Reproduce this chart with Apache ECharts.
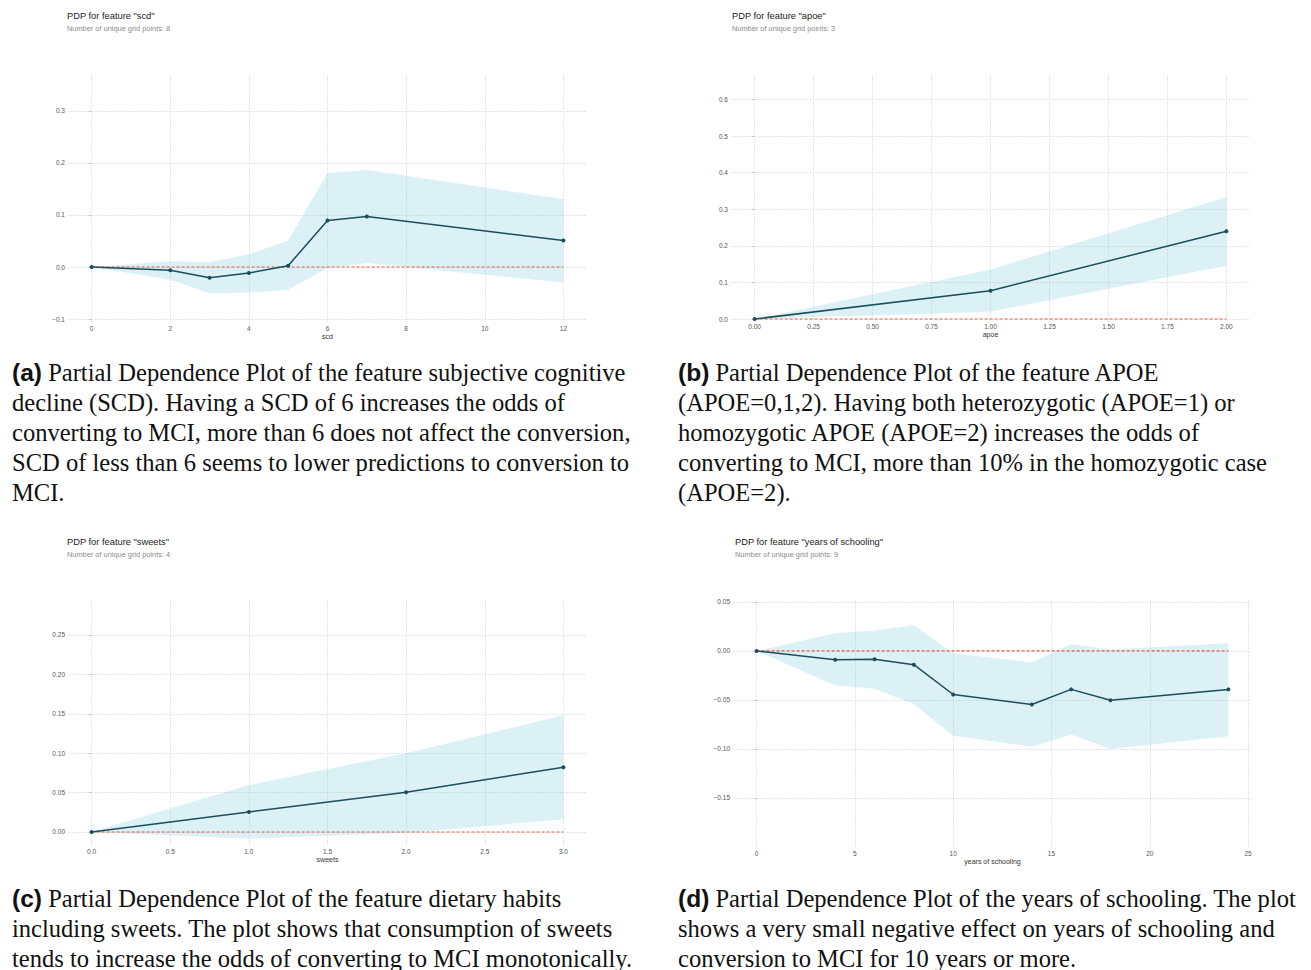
<!DOCTYPE html>
<html>
<head>
<meta charset="utf-8">
<script src="https://cdn.jsdelivr.net/npm/echarts@6/dist/echarts.min.js"></script>
<style>
  html, body { margin: 0; padding: 0; background: #ffffff; }
  #chart { width: 1311px; height: 970px; }
</style>
</head>
<body>
<div id="chart"></div>
<script>
// ---- feature "scd" ----
const scdX      = [0, 2, 3, 4, 5, 6, 7, 12];
const scdPdp    = [0, -0.0064, -0.0206, -0.0116, 0.0026, 0.0894, 0.0971, 0.0508];
const scdUpper  = [0, 0.011, 0.009, 0.0244, 0.0508, 0.180, 0.1865, 0.1305];
const scdLower  = [0, -0.0238, -0.0508, -0.049, -0.0437, -0.002, 0.0077, -0.030];
const scdXTicks = [0, 2, 4, 6, 8, 10, 12];
const scdYTicks = [-0.1, 0, 0.1, 0.2, 0.3];

// ---- feature "apoe" ----
const apoeX      = [0, 1, 2];
const apoePdp    = [0, 0.0773, 0.240];
const apoeUpper  = [0, 0.1355, 0.3336];
const apoeLower  = [0, 0.020, 0.1455];
const apoeXTicks = [0, 0.25, 0.5, 0.75, 1, 1.25, 1.5, 1.75, 2];
const apoeYTicks = [0, 0.1, 0.2, 0.3, 0.4, 0.5, 0.6];

// ---- feature "sweets" ----
const sweetsX      = [0, 1, 2, 3];
const sweetsPdp    = [0, 0.0254, 0.0504, 0.0822];
const sweetsUpper  = [0, 0.0597, 0.100, 0.148];
const sweetsLower  = [0, -0.0085, -0.001, 0.0161];
const sweetsXTicks = [0, 0.5, 1, 1.5, 2, 2.5, 3];
const sweetsYTicks = [0, 0.05, 0.1, 0.15, 0.2, 0.25];

// ---- feature "years of schooling" ----
const schoolX      = [0, 4, 6, 8, 10, 14, 16, 18, 24];
const schoolPdp    = [0, -0.0089, -0.0085, -0.014, -0.0444, -0.0546, -0.0392, -0.0502, -0.0392];
const schoolUpper  = [0, 0.0181, 0.021, 0.0263, -0.0024, -0.0116, 0.0068, 0.0014, 0.0079];
const schoolLower  = [0, -0.0352, -0.0386, -0.054, -0.0864, -0.0976, -0.0853, -0.100, -0.087];
const schoolXTicks = [0, 5, 10, 15, 20, 25];
const schoolYTicks = [-0.15, -0.1, -0.05, 0, 0.05];

// ---- figure captions (one entry per printed line) ----
const captionA = [
  ['(a)', ' Partial Dependence Plot of the feature subjective cognitive'],
  ['', 'decline (SCD). Having a SCD of 6 increases the odds of'],
  ['', 'converting to MCI, more than 6 does not affect the conversion,'],
  ['', 'SCD of less than 6 seems to lower predictions to conversion to'],
  ['', 'MCI.']
];
const captionB = [
  ['(b)', ' Partial Dependence Plot of the feature APOE'],
  ['', '(APOE=0,1,2). Having both heterozygotic (APOE=1) or'],
  ['', 'homozygotic APOE (APOE=2) increases the odds of'],
  ['', 'converting to MCI, more than 10% in the homozygotic case'],
  ['', '(APOE=2).']
];
const captionC = [
  ['(c)', ' Partial Dependence Plot of the feature dietary habits'],
  ['', 'including sweets. The plot shows that consumption of sweets'],
  ['', 'tends to increase the odds of converting to MCI monotonically.']
];
const captionD = [
  ['(d)', ' Partial Dependence Plot of the years of schooling. The plot'],
  ['', 'shows a very small negative effect on years of schooling and'],
  ['', 'conversion to MCI for 10 years or more.']
];

const SANS = '"Liberation Sans", Arial, sans-serif';
const SERIF = '"Liberation Serif", "Times New Roman", serif';
const PDP_COLOR = '#1A4E5D';
const FILL_COLOR = 'rgba(102,194,215,0.23)';
const ZERO_COLOR = '#EE5A40';
const GRID_COLOR = '#e0e0e0';
const CAPTION_SIZE = 24.55;

const panels = [
  { title: 'PDP for feature "scd"', sub: 'Number of unique grid points: 8', xName: 'scd',
    x: scdX, pdp: scdPdp, up: scdUpper, lo: scdLower, xTicks: scdXTicks, yTicks: scdYTicks,
    xDec: 0, yDec: 1, xRange: [-0.6, 12.6], yRange: [-0.1057, 0.369],
    box: { left: 68, top: 75, width: 519, height: 247 }, head: [67, 16] },
  { title: 'PDP for feature "apoe"', sub: 'Number of unique grid points: 3', xName: 'apoe',
    x: apoeX, pdp: apoePdp, up: apoeUpper, lo: apoeLower, xTicks: apoeXTicks, yTicks: apoeYTicks,
    xDec: 2, yDec: 1, xRange: [-0.1, 2.1], yRange: [-0.0027, 0.667],
    box: { left: 731, top: 75, width: 519, height: 245 }, head: [732, 16] },
  { title: 'PDP for feature "sweets"', sub: 'Number of unique grid points: 4', xName: 'sweets',
    x: sweetsX, pdp: sweetsPdp, up: sweetsUpper, lo: sweetsLower, xTicks: sweetsXTicks, yTicks: sweetsYTicks,
    xDec: 1, yDec: 2, xRange: [-0.15, 3.15], yRange: [-0.0165, 0.2944],
    box: { left: 68, top: 600, width: 519, height: 245 }, head: [67, 542] },
  { title: 'PDP for feature "years of schooling"', sub: 'Number of unique grid points: 9', xName: 'years of schooling',
    x: schoolX, pdp: schoolPdp, up: schoolUpper, lo: schoolLower, xTicks: schoolXTicks, yTicks: schoolYTicks,
    xDec: 0, yDec: 2, xRange: [-1.2, 25.2], yRange: [-0.2, 0.052],
    box: { left: 733, top: 600, width: 519, height: 247 }, head: [735, 542] }
];

function fmt(v, dec) {
  const s = Number(v).toFixed(dec);
  return s.charAt(0) === '-' ? '\u2212' + s.slice(1) : s;
}

const grids = [], xAxes = [], yAxes = [], series = [], graphics = [];

panels.forEach((p, i) => {
  grids.push(Object.assign({ containLabel: false }, p.box));

  xAxes.push({
    type: 'value', gridIndex: i, min: p.xRange[0], max: p.xRange[1],
    axisLine: { show: false },
    axisTick: { show: false, customValues: p.xTicks },
    axisLabel: { customValues: p.xTicks, formatter: v => fmt(v, p.xDec),
      fontSize: 6.5, color: '#555', fontFamily: SANS, margin: 3 },
    splitLine: { show: true, lineStyle: { color: GRID_COLOR, width: 0.8, type: [2, 1] } },
    name: p.xName, nameLocation: 'middle', nameGap: 10,
    nameTextStyle: { fontSize: 7, color: '#333', fontFamily: SANS }
  });

  yAxes.push({
    type: 'value', gridIndex: i, min: p.yRange[0], max: p.yRange[1],
    axisLine: { show: false },
    axisTick: { show: true, length: 3, customValues: p.yTicks, lineStyle: { color: '#bbb', width: 0.8 } },
    axisLabel: { customValues: p.yTicks, formatter: v => fmt(v, p.yDec),
      fontSize: 6.5, color: '#555', fontFamily: SANS, margin: 3 },
    splitLine: { show: true, lineStyle: { color: GRID_COLOR, width: 0.8, type: [2, 1] } }
  });

  // confidence band between lower and upper curves
  series.push({
    type: 'custom', xAxisIndex: i, yAxisIndex: i, silent: true, z: 1,
    data: [[p.x[0], 0]],
    renderItem: (params, api) => {
      const pts = [];
      for (let k = 0; k < p.x.length; k++) pts.push(api.coord([p.x[k], p.up[k]]));
      for (let k = p.x.length - 1; k >= 0; k--) pts.push(api.coord([p.x[k], p.lo[k]]));
      return { type: 'polygon', shape: { points: pts }, style: { fill: FILL_COLOR } };
    }
  });

  // reference line at zero
  series.push({
    type: 'line', xAxisIndex: i, yAxisIndex: i, silent: true, z: 2,
    data: [[p.x[0], 0], [p.x[p.x.length - 1], 0]],
    symbol: 'none',
    lineStyle: { color: ZERO_COLOR, width: 1.2, type: [3, 2] }
  });

  // partial dependence curve
  series.push({
    type: 'line', xAxisIndex: i, yAxisIndex: i, silent: true, z: 3,
    data: p.x.map((xv, k) => [xv, p.pdp[k]]),
    symbol: 'circle', symbolSize: 4,
    itemStyle: { color: PDP_COLOR },
    lineStyle: { color: PDP_COLOR, width: 1.5 }
  });

  graphics.push({ type: 'text', x: p.head[0], y: p.head[1],
    style: { text: p.title, font: '9.3px ' + SANS, fill: '#222', verticalAlign: 'middle' } });
  graphics.push({ type: 'text', x: p.head[0], y: p.head[1] + 12.5,
    style: { text: p.sub, font: '7.4px ' + SANS, fill: '#8a8a8a', verticalAlign: 'middle' } });
});

function addCaption(lines, x, y0) {
  lines.forEach((ln, k) => {
    graphics.push({ type: 'text', x: x, y: y0 + k * 30,
      style: {
        text: (ln[0] ? '{b|' + ln[0] + '}' : '') + ln[1],
        fontSize: CAPTION_SIZE, fontFamily: SERIF, fill: '#111', verticalAlign: 'middle',
        rich: { b: { fontSize: CAPTION_SIZE, fontFamily: SANS, fontWeight: 'bold', fill: '#111' } }
      } });
  });
}
addCaption(captionA, 12, 372);
addCaption(captionB, 678, 372);
addCaption(captionC, 12, 898);
addCaption(captionD, 678, 898);

const chart = echarts.init(document.getElementById('chart'), null, { renderer: 'svg' });
chart.setOption({
  animation: false,
  backgroundColor: '#ffffff',
  grid: grids,
  xAxis: xAxes,
  yAxis: yAxes,
  series: series,
  graphic: graphics
});
</script>
</body>
</html>
